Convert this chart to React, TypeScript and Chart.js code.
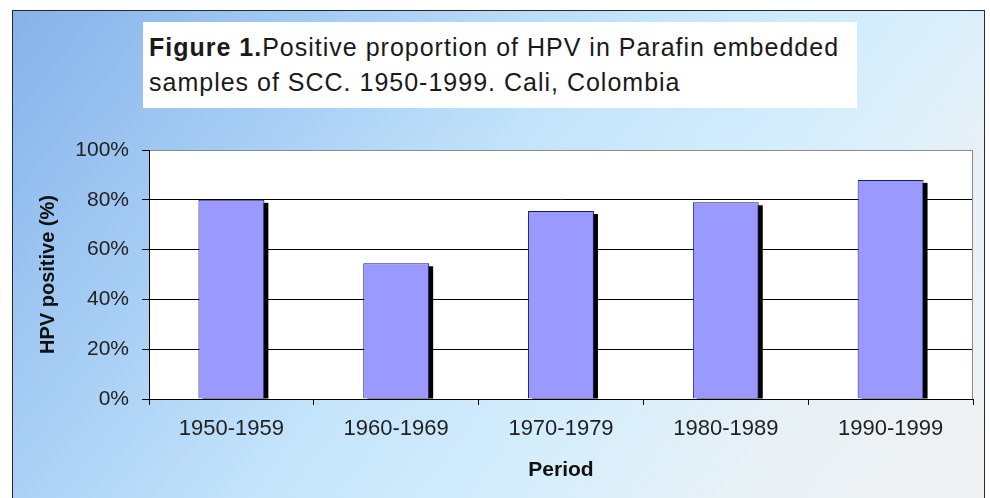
import React, { useEffect, useRef } from "react";
import { Chart, registerables } from "chart.js";

Chart.register(...registerables);

const categories = ["1950-1959", "1960-1969", "1970-1979", "1980-1989", "1990-1999"];
const hpvPositive = [80, 54.5, 75.5, 79, 88];
const yTickValues = [0, 20, 40, 60, 80, 100];
const titleBold = "Figure 1.";
const titleRest1 = "Positive proportion of HPV in Parafin embedded";
const titleLine2 = "samples of SCC. 1950-1999. Cali, Colombia";
const xTitle = "Period";
const yTitle = "HPV positive (%)";

const FONT = '"Liberation Sans", Arial, sans-serif';

const plotDecor = {
  id: "plotDecor",
  beforeDraw(chart: any) {
    const { ctx, chartArea } = chart;
    ctx.save();
    ctx.fillStyle = "#ffffff";
    ctx.fillRect(chartArea.left, chartArea.top, chartArea.right - chartArea.left, chartArea.bottom - chartArea.top);
    ctx.restore();
  },
  beforeDatasetsDraw(chart: any) {
    const { ctx, chartArea } = chart;
    ctx.save();
    ctx.strokeStyle = "#8c8c8c";
    ctx.lineWidth = 1;
    ctx.beginPath();
    ctx.moveTo(Math.round(chartArea.right) - 0.5, chartArea.top);
    ctx.lineTo(Math.round(chartArea.right) - 0.5, chartArea.bottom);
    ctx.stroke();
    const meta = chart.getDatasetMeta(0);
    ctx.fillStyle = "#000000";
    meta.data.forEach((el: any) => {
      const p = el.getProps(["x", "y", "base", "width"], true);
      ctx.fillRect(p.x - p.width / 2 + 4, p.y + 3, p.width, p.base - p.y - 3);
    });
    ctx.restore();
  },
};

export default function App() {
  const canvasRef = useRef<HTMLCanvasElement | null>(null);

  useEffect(() => {
    if (!canvasRef.current) return;
    const chart = new Chart(canvasRef.current, {
      type: "bar",
      data: {
        labels: categories,
        datasets: [
          {
            data: hpvPositive,
            backgroundColor: "#9999ff",
            borderColor: "#1a1a5a",
            borderWidth: 1,
            barPercentage: 0.4,
            categoryPercentage: 1,
          },
        ],
      },
      options: {
        responsive: false,
        animation: false,
        devicePixelRatio: 1,
        layout: { padding: { left: 30, top: 150, right: 17, bottom: 0 } },
        plugins: {
          legend: { display: false },
          tooltip: { enabled: false },
          title: { display: false },
        },
        scales: {
          x: {
            afterFit: (s: any) => {
              s.height = 99;
            },
            border: { display: true, color: "#000000", width: 1 },
            grid: {
              display: true,
              drawOnChartArea: false,
              drawTicks: true,
              tickLength: 6,
              color: "#000000",
              offset: true,
            },
            ticks: {
              color: "#222222",
              padding: 11,
              font: { family: FONT, size: 22 },
              maxRotation: 0,
              autoSkip: false,
            },
            title: {
              display: true,
              text: xTitle,
              color: "#111111",
              font: { family: FONT, size: 21, weight: "bold" },
              padding: { top: 0, bottom: 15 },
            },
          },
          y: {
            min: 0,
            max: 100,
            afterFit: (s: any) => {
              s.width = 119;
            },
            afterBuildTicks: (s: any) => {
              s.ticks = yTickValues.map((v) => ({ value: v }));
            },
            border: { display: true, color: "#000000", width: 1 },
            grid: {
              color: (c: any) => (c.tick && c.tick.value === 100 ? "#8c8c8c" : "#000000"),
              tickColor: "#000000",
              lineWidth: 1,
              drawTicks: true,
              tickLength: 7,
            },
            ticks: {
              color: "#222222",
              padding: 13,
              font: { family: FONT, size: 21 },
              callback: (v: any) => `${v}%`,
            },
            title: {
              display: true,
              text: yTitle,
              color: "#111111",
              font: { family: FONT, size: 20, weight: "bold" },
              padding: { top: 6, bottom: 0 },
            },
          },
        },
      },
      plugins: [plotDecor],
    });
    return () => chart.destroy();
  }, []);

  return (
    <div
      style={{
        position: "fixed",
        left: 0,
        top: 0,
        width: 990,
        height: 498,
        background: "#ffffff",
        overflow: "hidden",
      }}
    >
      <div
        style={{
          position: "absolute",
          left: 12,
          top: 10,
          width: 971,
          height: 520,
          border: "1px solid #2a2a2a",
          background:
            "linear-gradient(128deg, #86b2ea 0%, #a3cbf3 22%, #c4e4fb 45%, #d3edfc 62%, #e8f1f6 80%, #f1f1f1 100%)",
        }}
      />
      <div
        style={{
          position: "absolute",
          left: 143,
          top: 22,
          width: 714,
          height: 86,
          background: "#ffffff",
          fontFamily: FONT,
          fontSize: 25,
          letterSpacing: "1px",
          lineHeight: "35px",
          color: "#1a1a1a",
          paddingLeft: 6,
          paddingTop: 8,
          boxSizing: "border-box",
          whiteSpace: "nowrap",
        }}
      >
        <div>
          <b>{titleBold}</b>
          {titleRest1}
        </div>
        <div>{titleLine2}</div>
      </div>
      <canvas
        ref={canvasRef}
        width={990}
        height={498}
        style={{ position: "absolute", left: 0, top: 0, width: 990, height: 498 }}
      />
    </div>
  );
}
